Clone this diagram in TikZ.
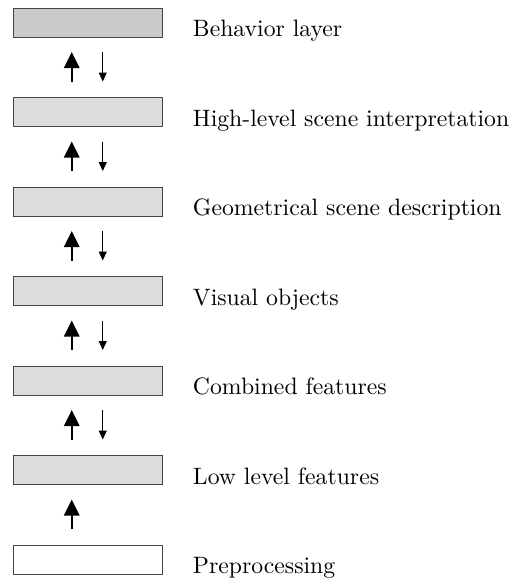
\documentclass[tikz,border=0pt]{standalone}
\usetikzlibrary{arrows.meta}
\definecolor{boxtop}{RGB}{202,202,202}
\definecolor{boxmid}{RGB}{221,219,221}
\definecolor{boxline}{RGB}{70,70,70}
\begin{document}
\begin{tikzpicture}[x=1pt,y=-1pt,
  layerbox/.style={draw=boxline,line width=0.9pt,minimum width=149.5pt,minimum height=29pt,inner sep=0pt,outer sep=0pt},
  lbl/.style={anchor=base west,inner sep=0pt,scale=2.37,font=\fontsize{10}{12}\selectfont},
  uparrow/.style={line width=1.7pt,-{Triangle[length=16pt,width=15.5pt]},shorten <=16pt,shorten >=15pt},
  downarrow/.style={line width=1pt,-{Triangle[length=9pt,width=8pt]},shorten <=15pt,shorten >=16pt}]
\useasboundingbox (0,0) rectangle (521,581);
\node[layerbox,fill=boxtop] (b1) at (87.75,22.5) {};
\node[layerbox,fill=boxmid] (b2) at (87.75,112) {};
\node[layerbox,fill=boxmid] (b3) at (87.75,201.5) {};
\node[layerbox,fill=boxmid] (b4) at (87.75,291) {};
\node[layerbox,fill=boxmid] (b5) at (87.75,380.5) {};
\node[layerbox,fill=boxmid] (b6) at (87.75,470) {};
\node[layerbox,fill=white] (b7) at (87.75,559.5) {};
\node[lbl] (l1) at (192.5,36.5) {Behavior layer};
\node[lbl] (l2) at (192.5,126) {High-level scene interpretation};
\node[lbl] (l3) at (192.5,215.5) {Geometrical scene description};
\node[lbl] (l4) at (192.5,305) {Visual objects};
\node[lbl] (l5) at (192.5,394.5) {Combined features};
\node[lbl] (l6) at (192.5,484) {Low level features};
\node[lbl] (l7) at (192.5,573.5) {Preprocessing};
\foreach \lo/\hi in {b2/b1,b3/b2,b4/b3,b5/b4,b6/b5}{
  \draw[uparrow] ([xshift=-16pt]\lo.north) -- ([xshift=-16pt]\hi.south);
  \draw[downarrow] ([xshift=15pt]\hi.south) -- ([xshift=15pt]\lo.north);
}
\draw[uparrow] ([xshift=-16pt]b7.north) -- ([xshift=-16pt]b6.south);
\end{tikzpicture}
\end{document}
